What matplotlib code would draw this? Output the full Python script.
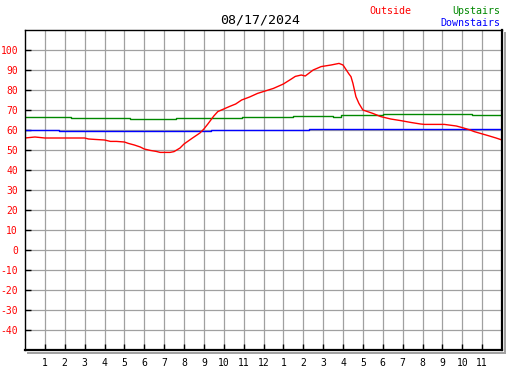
import matplotlib
matplotlib.use("Agg")
import matplotlib.pyplot as plt

title = "08/17/2024"
x_tick_labels = ["1","2","3","4","5","6","7","8","9","10","11","12",
                 "1","2","3","4","5","6","7","8","9","10","11"]
y_ticks = [-40,-30,-20,-10,0,10,20,30,40,50,60,70,80,90,100]

outside_h = [0.0,0.5,1.0,1.5,2.0,2.5,3.0,3.2,3.5,4.0,4.3,4.6,5.0,5.2,5.5,5.8,6.0,6.3,6.6,6.8,
             7.0,7.3,7.5,7.8,8.0,8.4,8.8,9.0,9.2,9.5,9.7,10.0,10.3,10.6,10.9,11.3,11.7,12.5,
             13.0,13.4,13.6,13.9,14.1,14.5,14.9,15.4,15.8,16.0,16.1,16.3,16.4,16.5,16.65,16.8,
             17.0,17.5,17.9,18.4,18.9,19.4,19.9,20.1,21.1,21.7,22.0,22.4,22.6,23.3,23.7,24.0]
outside_v = [56,56.5,56,56,56,56,56,55.5,55.3,55,54.3,54.3,54,53.3,52.5,51.5,50.5,49.8,49.3,48.8,
             48.8,48.8,49.2,51,53,55.8,58.5,60.5,63,67,69.2,70.5,71.8,73,75,76.5,78.3,80.8,
             83,85.5,86.8,87.5,87,90,91.7,92.5,93.3,92.5,91,88,86.7,83.3,76.7,73.3,
             70,68.3,66.7,65.5,64.7,63.8,63,62.8,62.8,62,61.2,60,59.2,57.2,56,55]

upstairs_h = [0.0,2.3,2.3,5.3,5.3,7.6,7.6,10.9,10.9,13.5,13.5,15.5,15.5,15.9,15.9,18.0,18.0,18.3,18.3,22.5,22.5,24.0]
upstairs_v = [66.3,66.3,65.8,65.8,65.3,65.3,65.8,65.8,66.3,66.3,67,67,66.7,66.7,67.3,67.3,67.8,67.8,68,68,67.3,67.3]

downstairs_h = [0.0,1.7,1.7,9.35,9.35,14.3,14.3,24.0]
downstairs_v = [60,60,59.5,59.5,59.8,59.8,60.3,60.3]

W, H = 527, 370
fig = plt.figure(figsize=(W/100, H/100), dpi=100)
L, R, T, B = 25, 502, 30, 350
ax = fig.add_axes([L/W, 1-B/H, (R-L)/W, (B-T)/H])
ax.set_xlim(0, 24)
ax.set_ylim(-50, 110)

grid_c = "#a0a0a0"
for h in range(1, 24):
    ax.axvline(h, color=grid_c, lw=0.9, zorder=1)
for v in range(-40, 110, 10):
    ax.axhline(v, color=grid_c, lw=0.9, zorder=1)

ax.plot(upstairs_h, upstairs_v, color="#008800", lw=1.0, zorder=3)
ax.plot(downstairs_h, downstairs_v, color="#0000ff", lw=1.0, zorder=3)
ax.plot(outside_h, outside_v, color="#ff0000", lw=1.0, zorder=4)

mono = "DejaVu Sans Mono"
ax.set_xticks(range(1, 24))
ax.set_xticklabels(x_tick_labels, fontsize=7, family=mono, color="black")
ax.set_yticks(y_ticks)
ax.set_yticklabels([str(v) for v in y_ticks], fontsize=7, family=mono, color="red")
ax.tick_params(axis="both", direction="in", length=4, width=1, color="black")
ax.tick_params(axis="x", pad=6)
ax.tick_params(axis="y", pad=5)

for s in ["left", "top"]:
    ax.spines[s].set_linewidth(1.0)
for s in ["right", "bottom"]:
    ax.spines[s].set_linewidth(1.6)
for s in ax.spines.values():
    s.set_color("black")
    s.set_zorder(5)

# shadow on right and bottom
x_sh = (R + 2.5 - L) / (R - L)
y_sh = -2.5 / (B - T)
ax.plot([x_sh, x_sh], [1 - 3/(B-T), y_sh], transform=ax.transAxes, color="#a0a0a0",
        lw=1.4, clip_on=False, zorder=0)
ax.plot([3/(R-L), x_sh], [y_sh, y_sh], transform=ax.transAxes, color="#a0a0a0",
        lw=1.4, clip_on=False, zorder=0)

fig.text(260.5/W, 1-20/H, title, ha="center", va="center", fontsize=9.5, family=mono, color="black")
fig.text(390/W, 1-11/H, "Outside", ha="center", va="center", fontsize=7.2, family=mono, color="red")
fig.text(500/W, 1-11/H, "Upstairs", ha="right", va="center", fontsize=7.2, family=mono, color="#008800")
fig.text(500/W, 1-23/H, "Downstairs", ha="right", va="center", fontsize=7.2, family=mono, color="#0000ff")

fig.savefig("out.png", dpi=100)
